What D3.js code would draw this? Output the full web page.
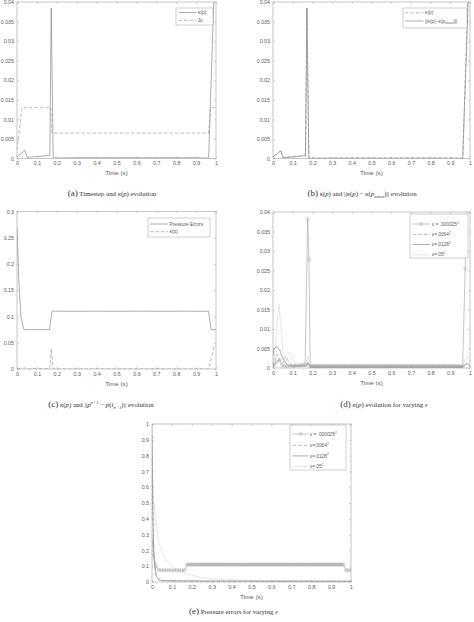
<!DOCTYPE html>
<html><head><meta charset="utf-8">
<script src="https://cdn.jsdelivr.net/npm/d3@7"></script>
<style>
html,body{margin:0;padding:0;background:#fff;}
svg{display:block;}
</style></head><body>
<svg id="c" width="474" height="622"></svg>
<script>
// ---------------- DATA ----------------
const xTicks = [0, 0.1, 0.2, 0.3, 0.4, 0.5, 0.6, 0.7, 0.8, 0.9, 1];
const yTicksK = [0, 0.005, 0.01, 0.015, 0.02, 0.025, 0.03, 0.035, 0.04];
const yTicksC = [0, 0.05, 0.1, 0.15, 0.2, 0.25, 0.3];
const yTicksE = [0, 0.1, 0.2, 0.3, 0.4, 0.5, 0.6, 0.7, 0.8, 0.9, 1];

// kappa(p) (default epsilon run)
const kapT = [0, 0.01, 0.02, 0.04, 0.05, 0.1, 0.165, 0.172, 0.182, 0.3, 0.5, 0.7, 0.9, 0.963, 0.99, 1.0];
const kapV = [0.0005, 0.0009, 0.0012, 0.0021, 0.0003, 0.0005, 0.0008, 0.0385, 0.0001, 0.0002, 0.0002, 0.0002, 0.0002, 0.0001, 0.0420, 0.0420];
// time step
const dtT = [0, 0.025, 0.17, 0.175, 0.963, 0.972, 1.0];
const dtV = [0.0022, 0.013, 0.013, 0.0065, 0.0065, 0.013, 0.013];
// ||kappa(p) - kappa(p_exact)||
const errT = [0, 0.01, 0.02, 0.04, 0.05, 0.1, 0.165, 0.172, 0.182, 0.5, 0.963, 0.992, 1.0];
const errV = [0.0004, 0.0008, 0.0011, 0.0020, 0.0002, 0.0004, 0.0007, 0.0384, 0.00003, 0.00003, 0.00003, 0.0420, 0.0420];

// time grid of the simulation
const gridHead = [0, 0.003, 0.009, 0.02, 0.033, 0.046, 0.059, 0.072, 0.085, 0.098, 0.111, 0.124, 0.137, 0.15, 0.163];
const gridMid = [
 0.176, 0.1825, 0.189, 0.1955, 0.202, 0.2085, 0.215, 0.2215, 0.228, 0.2345,
 0.241, 0.2475, 0.254, 0.2605, 0.267, 0.2735, 0.28, 0.2865, 0.293, 0.2995,
 0.306, 0.3125, 0.319, 0.3255, 0.332, 0.3385, 0.345, 0.3515, 0.358, 0.3645,
 0.371, 0.3775, 0.384, 0.3905, 0.397, 0.4035, 0.41, 0.4165, 0.423, 0.4295,
 0.436, 0.4425, 0.449, 0.4555, 0.462, 0.4685, 0.475, 0.4815, 0.488, 0.4945,
 0.501, 0.5075, 0.514, 0.5205, 0.527, 0.5335, 0.54, 0.5465, 0.553, 0.5595,
 0.566, 0.5725, 0.579, 0.5855, 0.592, 0.5985, 0.605, 0.6115, 0.618, 0.6245,
 0.631, 0.6375, 0.644, 0.6505, 0.657, 0.6635, 0.67, 0.6765, 0.683, 0.6895,
 0.696, 0.7025, 0.709, 0.7155, 0.722, 0.7285, 0.735, 0.7415, 0.748, 0.7545,
 0.761, 0.7675, 0.774, 0.7805, 0.787, 0.7935, 0.8, 0.8065, 0.813, 0.8195,
 0.826, 0.8325, 0.839, 0.8455, 0.852, 0.8585, 0.865, 0.8715, 0.878, 0.8845,
 0.891, 0.8975, 0.904, 0.9105, 0.917, 0.9235, 0.93, 0.9365, 0.943, 0.9495,
 0.956, 0.9625];
const gridTail = [0.9755, 0.9885, 1.0];

// (d) kappa(p), eps = .000025^2 (markers at every step)
const dEps1Head = [0.0005, 0.0008, 0.0011, 0.0016, 0.0021, 0.0007, 0.0005, 0.0005, 0.0006, 0.0006, 0.0006, 0.0007, 0.0007, 0.0008, 0.0009];
const dEps1Mid = [
 0.0383, 0.0278, 0.0004, 0.0005, 0.0005, 0.0004, 0.0005, 0.0005, 0.0004, 0.0005,
 0.0005, 0.0004, 0.0005, 0.0005, 0.0004, 0.0005, 0.0005, 0.0004, 0.0005, 0.0005,
 0.0004, 0.0005, 0.0005, 0.0004, 0.0005, 0.0005, 0.0004, 0.0005, 0.0005, 0.0004,
 0.0005, 0.0005, 0.0004, 0.0005, 0.0005, 0.0004, 0.0005, 0.0005, 0.0004, 0.0005,
 0.0005, 0.0004, 0.0005, 0.0005, 0.0004, 0.0005, 0.0005, 0.0004, 0.0005, 0.0005,
 0.0004, 0.0005, 0.0005, 0.0004, 0.0005, 0.0005, 0.0004, 0.0005, 0.0005, 0.0004,
 0.0005, 0.0005, 0.0004, 0.0005, 0.0005, 0.0004, 0.0005, 0.0005, 0.0004, 0.0005,
 0.0005, 0.0004, 0.0005, 0.0005, 0.0004, 0.0005, 0.0005, 0.0004, 0.0005, 0.0005,
 0.0004, 0.0005, 0.0005, 0.0004, 0.0005, 0.0005, 0.0004, 0.0005, 0.0005, 0.0004,
 0.0005, 0.0005, 0.0004, 0.0005, 0.0005, 0.0004, 0.0005, 0.0005, 0.0004, 0.0005,
 0.0005, 0.0004, 0.0005, 0.0005, 0.0004, 0.0005, 0.0005, 0.0004, 0.0005, 0.0005,
 0.0004, 0.0005, 0.0005, 0.0004, 0.0005, 0.0005, 0.0004, 0.0005, 0.0005, 0.0004,
 0.0004, 0.0004];
const dEps1Tail = [0.0255, 0.0450, 0.0450];
// (d) other epsilons
const dEps2T = [0, 0.01, 0.02, 0.035, 0.05, 0.065, 0.08, 0.1, 0.17, 0.176, 0.19, 0.5, 0.96, 0.98, 1.0];
const dEps2V = [0.0005, 0.002, 0.0035, 0.002, 0.0012, 0.003, 0.0015, 0.0005, 0.0006, 0.0015, 0.0003, 0.0003, 0.0003, 0.001, 0.0005];
const dEps3T = [0, 0.005, 0.02, 0.035, 0.05, 0.065, 0.08, 0.1, 0.17, 0.176, 0.19, 0.96, 0.985, 1.0];
const dEps3V = [0.003, 0.005, 0.0055, 0.0045, 0.0025, 0.0012, 0.0006, 0.0004, 0.0005, 0.0012, 0.0002, 0.0002, 0.0012, 0.0004];
const dEps4T = [0, 0.01, 0.02, 0.03, 0.04, 0.05, 0.06, 0.075, 0.09, 0.1, 0.115, 0.17, 0.176, 0.19, 0.96, 0.985, 1.0];
const dEps4V = [0.001, 0.004, 0.011, 0.0163, 0.011, 0.0045, 0.003, 0.004, 0.0037, 0.002, 0.0008, 0.0007, 0.003, 0.0005, 0.0004, 0.003, 0.0015];

// (e) pressure errors, eps = .000025^2 (also panel c)
const eEps1Head = [0.27, 0.24, 0.17, 0.10, 0.076, 0.075, 0.075, 0.075, 0.075, 0.075, 0.075, 0.075, 0.075, 0.075, 0.075];
const eEps1Mid = [
 0.11, 0.11, 0.11, 0.11, 0.11, 0.11, 0.11, 0.11, 0.11, 0.11,
 0.11, 0.11, 0.11, 0.11, 0.11, 0.11, 0.11, 0.11, 0.11, 0.11,
 0.11, 0.11, 0.11, 0.11, 0.11, 0.11, 0.11, 0.11, 0.11, 0.11,
 0.11, 0.11, 0.11, 0.11, 0.11, 0.11, 0.11, 0.11, 0.11, 0.11,
 0.11, 0.11, 0.11, 0.11, 0.11, 0.11, 0.11, 0.11, 0.11, 0.11,
 0.11, 0.11, 0.11, 0.11, 0.11, 0.11, 0.11, 0.11, 0.11, 0.11,
 0.11, 0.11, 0.11, 0.11, 0.11, 0.11, 0.11, 0.11, 0.11, 0.11,
 0.11, 0.11, 0.11, 0.11, 0.11, 0.11, 0.11, 0.11, 0.11, 0.11,
 0.11, 0.11, 0.11, 0.11, 0.11, 0.11, 0.11, 0.11, 0.11, 0.11,
 0.11, 0.11, 0.11, 0.11, 0.11, 0.11, 0.11, 0.11, 0.11, 0.11,
 0.11, 0.11, 0.11, 0.11, 0.11, 0.11, 0.11, 0.11, 0.11, 0.11,
 0.11, 0.11, 0.11, 0.11, 0.11, 0.11, 0.11, 0.11, 0.11, 0.11,
 0.11, 0.11];
const eEps1Tail = [0.075, 0.075, 0.075];
const eEps2T = [0, 0.003, 0.009, 0.02, 0.033, 0.05, 0.1, 0.2, 0.5, 1.0];
const eEps2V = [1.0, 0.6, 0.2, 0.05, 0.015, 0.008, 0.006, 0.005, 0.004, 0.004];
const eEps3T = [0, 0.003, 0.009, 0.02, 0.033, 0.05, 0.1, 0.3, 1.0];
const eEps3V = [0.93, 0.5, 0.15, 0.04, 0.015, 0.01, 0.008, 0.006, 0.005];
const eEps4T = [0, 0.003, 0.009, 0.02, 0.033, 0.046, 0.072, 0.098, 0.137, 0.176, 0.25, 0.35, 0.5, 0.7, 1.0];
const eEps4V = [0.72, 0.68, 0.52, 0.36, 0.26, 0.2, 0.14, 0.1, 0.07, 0.05, 0.028, 0.016, 0.01, 0.007, 0.005];

// ---------------- DRAWING ----------------
const timeGrid = gridHead.concat(gridMid, gridTail);
const dEps1 = dEps1Head.concat(dEps1Mid, dEps1Tail);
const eEps1 = eEps1Head.concat(eEps1Mid, eEps1Tail);
const zip = (t, v) => t.map((d, i) => [d, v[i]]);

const svg = d3.select("#c");
const SANS = "Liberation Sans, Arial, sans-serif";
const SERIF = "Liberation Serif, Times New Roman, serif";
const AX = "#a0a0a0", TXT = "#5a5a5a";

const styles = {
  solid: {stroke: "#808080", dash: null, w: 0.65},
  dashed: {stroke: "#959595", dash: "3.5,2", w: 0.65},
  dotted: {stroke: "#b5b5b5", dash: "0.9,1.1", w: 0.7},
  circ: {stroke: "#a0a0a0", dash: null, w: 0.6}
};

let clipN = 0;
function panel(cfg) {
  const x = d3.scaleLinear().domain([0, 1]).range([cfg.left, cfg.right]);
  const y = d3.scaleLinear().domain([0, cfg.ymax]).range([cfg.bottom, cfg.top]);
  const g = svg.append("g");
  const id = "clip" + (clipN++);
  svg.append("clipPath").attr("id", id).append("rect")
    .attr("x", cfg.left).attr("y", cfg.top)
    .attr("width", cfg.right - cfg.left).attr("height", cfg.bottom - cfg.top);

  const fmt = d3.format("");
  const styleAxis = a => {
    a.select(".domain").remove();
    a.selectAll("line").attr("stroke", AX).attr("stroke-width", 0.5);
    a.selectAll("text").attr("fill", TXT).attr("font-size", 5.3).attr("font-family", SANS);
  };
  g.append("g").attr("transform", `translate(0,${cfg.bottom})`)
    .call(d3.axisBottom(x).tickValues(xTicks).tickFormat(fmt).tickSize(-2).tickPadding(3.2)).call(styleAxis);
  g.append("g").attr("transform", `translate(0,${cfg.top})`)
    .call(d3.axisTop(x).tickValues(xTicks).tickFormat("").tickSize(-2)).call(styleAxis);
  g.append("g").attr("transform", `translate(${cfg.left},0)`)
    .call(d3.axisLeft(y).tickValues(cfg.yTicks).tickFormat(fmt).tickSize(-2).tickPadding(3)).call(styleAxis);
  g.append("g").attr("transform", `translate(${cfg.right},0)`)
    .call(d3.axisRight(y).tickValues(cfg.yTicks).tickFormat("").tickSize(-2)).call(styleAxis);

  const plot = g.append("g").attr("clip-path", `url(#${id})`);
  const line = d3.line().x(d => x(d[0])).y(d => y(d[1]));
  cfg.series.forEach(s => {
    const st = styles[s.style];
    plot.append("path").datum(s.data).attr("d", line)
      .attr("fill", "none").attr("stroke", st.stroke).attr("stroke-width", st.w)
      .attr("stroke-dasharray", st.dash);
    if (s.markers) {
      plot.append("g").selectAll("circle").data(s.data).join("circle")
        .attr("cx", d => x(d[0])).attr("cy", d => y(d[1])).attr("r", 1.5)
        .attr("fill", "none").attr("stroke", "#a0a0a0").attr("stroke-width", 0.5);
    }
  });
  g.append("rect").attr("x", cfg.left).attr("y", cfg.top)
    .attr("width", cfg.right - cfg.left).attr("height", cfg.bottom - cfg.top)
    .attr("fill", "none").attr("stroke", AX).attr("stroke-width", 0.6);

  g.append("text").attr("x", (cfg.left + cfg.right) / 2).attr("y", cfg.bottom + 16.5)
    .attr("text-anchor", "middle").attr("font-family", SANS).attr("font-size", 6.2)
    .attr("fill", TXT).text("Time (s)");

  // legend
  const L = cfg.legend;
  const lg = g.append("g");
  lg.append("rect").attr("x", L.x0).attr("y", L.y0).attr("width", L.x1 - L.x0).attr("height", L.y1 - L.y0)
    .attr("fill", "#fff").attr("stroke", AX).attr("stroke-width", 0.5);
  L.items.forEach((it, i) => {
    const yy = L.rows[i];
    const st = styles[it.style];
    lg.append("line").attr("x1", L.lx0).attr("x2", L.lx1).attr("y1", yy).attr("y2", yy)
      .attr("stroke", st.stroke).attr("stroke-width", st.w).attr("stroke-dasharray", st.dash);
    if (it.style === "circ") {
      lg.append("circle").attr("cx", (L.lx0 + L.lx1) / 2).attr("cy", yy).attr("r", 1.5)
        .attr("fill", "none").attr("stroke", "#a0a0a0").attr("stroke-width", 0.5);
    }
    const t = lg.append("text").attr("x", L.tx).attr("y", yy + 1.6)
      .attr("font-family", SANS).attr("fill", TXT).attr("font-size", L.fs || 4.8);
    rich(t, it.label, L.fs || 4.8);
  });
}

function rich(t, parts, base) {
  let off = 0;
  parts.forEach(p => {
    if (typeof p === "string") p = {t: p};
    const ts = t.append("tspan").text(p.t);
    let target = 0, size = base;
    if (p.s === "sub") { target = base * 0.3; size = base * 0.7; }
    if (p.s === "sup") { target = -base * 0.42; size = base * 0.7; }
    if (p.size) size = p.size;
    if (p.it) ts.attr("font-style", "italic");
    ts.attr("font-size", size);
    if (target - off !== 0) ts.attr("dy", target - off);
    off = target;
  });
}

function caption(cx, yy, parts) {
  const t = svg.append("text").attr("x", cx).attr("y", yy).attr("text-anchor", "middle")
    .attr("font-family", SERIF).attr("fill", "#333");
  rich(t, parts, 6.8);
}

// (a)
panel({left: 17, right: 216, top: 2, bottom: 158.5, ymax: 0.04, yTicks: yTicksK,
  series: [{data: zip(kapT, kapV), style: "solid"}, {data: zip(dtT, dtV), style: "dashed"}],
  legend: {x0: 176, x1: 213, y0: 8, y1: 25, rows: [12.5, 20.3], lx0: 178.5, lx1: 196.5, tx: 198,
    items: [{style: "solid", label: ["κ(p)"]}, {style: "dashed", label: ["Δt"]}]}
});
// (b)
panel({left: 273, right: 470, top: 2, bottom: 158.5, ymax: 0.04, yTicks: yTicksK,
  series: [{data: zip(kapT, kapV), style: "dashed"}, {data: zip(errT, errV), style: "solid"}],
  legend: {x0: 403, x1: 467, y0: 8, y1: 28, rows: [12.8, 21], lx0: 405, lx1: 423.5, tx: 425,
    items: [{style: "dashed", label: ["κ(p)"]},
            {style: "solid", label: ["||κ(p)−κ(p", {t: "exact", s: "sub"}, ")||"]}]}
});
// (c)
panel({left: 17, right: 216, top: 211.5, bottom: 369, ymax: 0.3, yTicks: yTicksC,
  series: [{data: zip(timeGrid, eEps1), style: "solid"}, {data: zip(kapT, kapV), style: "dashed"}],
  legend: {x0: 148, x1: 210, y0: 218, y1: 237, rows: [224, 231.7], lx0: 150, lx1: 168, tx: 169.5,
    items: [{style: "solid", label: ["Pressure Errors"]}, {style: "dashed", label: ["κ(p)"]}]}
});
// (d)
panel({left: 273, right: 470, top: 212, bottom: 368, ymax: 0.04, yTicks: yTicksK,
  series: [{data: zip(dEps4T, dEps4V), style: "dotted"},
           {data: zip(dEps3T, dEps3V), style: "solid"},
           {data: zip(dEps2T, dEps2V), style: "dashed"},
           {data: zip(timeGrid, dEps1), style: "circ", markers: true}],
  legend: {x0: 410, x1: 468, y0: 214, y1: 258, rows: [224, 234.3, 244.5, 254.8], lx0: 412.5, lx1: 430, tx: 432,
    items: [{style: "circ", label: ["ε = .000025", {t: "2", s: "sup"}]},
            {style: "dashed", label: ["ε=.0064", {t: "2", s: "sup"}]},
            {style: "solid", label: ["ε=.0128", {t: "2", s: "sup"}]},
            {style: "dotted", label: ["ε=.05", {t: "2", s: "sup"}]}]}
});
// (e)
panel({left: 152, right: 351, top: 424, bottom: 582, ymax: 1, yTicks: yTicksE,
  series: [{data: zip(eEps4T, eEps4V), style: "dotted"},
           {data: zip(eEps3T, eEps3V), style: "solid"},
           {data: zip(eEps2T, eEps2V), style: "dashed"},
           {data: zip(timeGrid, eEps1), style: "circ", markers: true}],
  legend: {x0: 290, x1: 346, y0: 425, y1: 470, rows: [434, 445.3, 455.9, 466.5], lx0: 292.5, lx1: 308.5, tx: 310,
    items: [{style: "circ", label: ["ε = .000025", {t: "2", s: "sup"}]},
            {style: "dashed", label: ["ε=.0064", {t: "2", s: "sup"}]},
            {style: "solid", label: ["ε=.0128", {t: "2", s: "sup"}]},
            {style: "dotted", label: ["ε=.05", {t: "2", s: "sup"}]}]}
});

// captions
caption(112, 195.5, [{t: "(a)", size: 9}, " Timestep and ", {t: "κ", it: true}, "(", {t: "p", it: true}, ") evolution"]);
caption(362, 195.5, [{t: "(b)", size: 9}, " ", {t: "κ", it: true}, "(", {t: "p", it: true}, ") and ||", {t: "κ", it: true}, "(", {t: "p", it: true}, ") − ", {t: "κ", it: true}, "(", {t: "p", it: true}, {t: "exact", s: "sub", it: true}, ")|| evolution"]);
caption(101, 406.5, [{t: "(c)", size: 9}, " ", {t: "κ", it: true}, "(", {t: "p", it: true}, ") and ||", {t: "p", it: true}, {t: "n+1", s: "sup", it: true}, " − ", {t: "p", it: true}, "(", {t: "t", it: true}, {t: "n+1", s: "sub", it: true}, ")|| evolution"]);
caption(384, 406.5, [{t: "(d)", size: 9}, " ", {t: "κ", it: true}, "(", {t: "p", it: true}, ") evolution for varying ", {t: "ε", it: true}]);
caption(233.5, 614, [{t: "(e)", size: 9}, " Pressure errors for varying ", {t: "ε", it: true}]);
</script>
</body></html>
